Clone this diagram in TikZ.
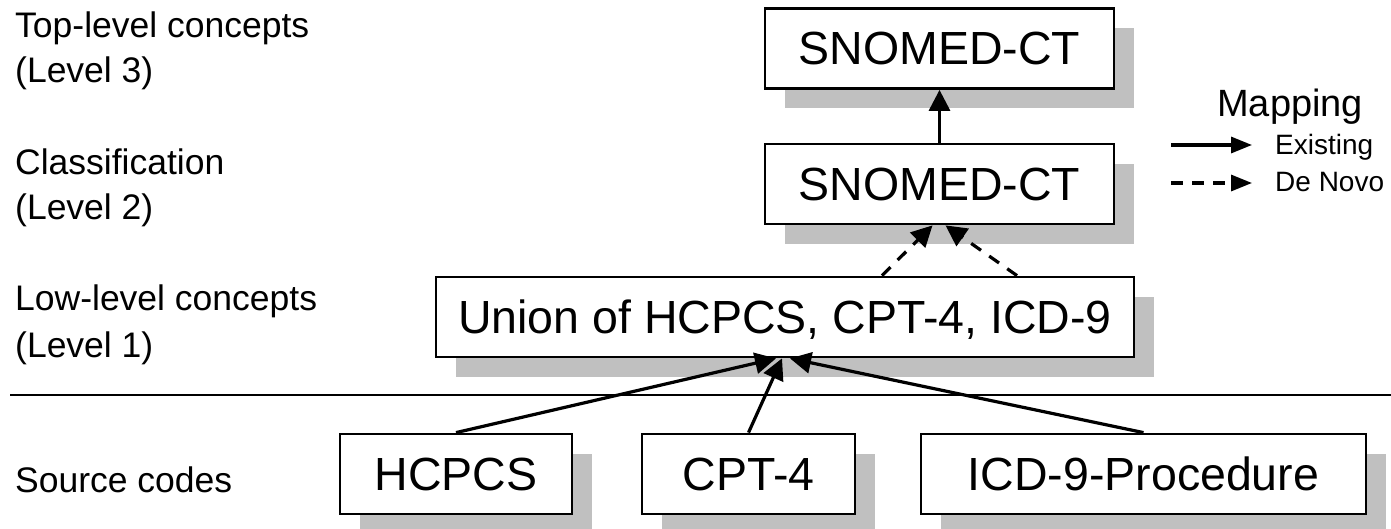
\documentclass[tikz,border=0pt]{standalone}
\usepackage{fontspec}
\setmainfont{Liberation Sans}
\usetikzlibrary{arrows.meta,shadows,calc}
\definecolor{shadowgray}{RGB}{192,192,192}
\tikzset{
  box/.style={draw=black, line width=2.8pt, fill=white, inner sep=0pt,
    text height=33pt, text depth=0pt, minimum height=80pt,
    font=\fontsize{46.5}{50}\selectfont,
    drop shadow={shadow xshift=20pt, shadow yshift=-20pt, fill=shadowgray, opacity=1}},
  lab/.style={anchor=base west, inner sep=0pt, font=\fontsize{35.5}{42}\selectfont},
  leg/.style={anchor=base west, inner sep=0pt, font=\fontsize{28}{32}\selectfont},
  conn/.style={line width=3.2pt, -{Triangle[length=21pt,width=21pt]}},
  dconn/.style={conn, dash pattern=on 12pt off 10pt},
  legarrow/.style={line width=3.2pt, -{Triangle[length=21pt,width=16pt]}},
}
\begin{document}
\begin{tikzpicture}[x=1pt,y=-1pt]
\useasboundingbox (0,0) rectangle (1391,529);
% level labels
\node[lab] (l3a) at (15,38) {Top-level concepts};
\node[lab] (l3b) at (15,83) {(Level 3)};
\node[lab] (l2a) at (15,175) {Classification};
\node[lab] (l2b) at (15,220) {(Level 2)};
\node[lab] (l1a) at (15,310) {Low-level concepts};
\node[lab] (l1b) at (15,357) {(Level 1)};
\node[lab] (src) at (15,492) {Source codes};
% separator
\coordinate (sepL) at (10,395);
\coordinate (sepR) at (1391,395);
\draw[line width=2.8pt] (sepL) -- (sepR);
% boxes
\node[box, minimum width=349pt] (top) at (939.5,48.5) {SNOMED-CT};
\node[box, minimum width=349pt] (mid) at (939.5,184) {SNOMED-CT};
\node[box, minimum width=698pt] (union) at (785,317) {Union of HCPCS, CPT-4, ICD-9};
\node[box, minimum width=232pt] (hcpcs) at (456,474) {HCPCS};
\node[box, minimum width=213pt] (cpt) at (748.5,474) {CPT-4};
\node[box, minimum width=445pt] (icd) at (1143.5,474) {ICD-9-Procedure};
% connectors
\draw[conn] (mid.north) -- (top.south);
\draw[dconn] ($(union.north)+(97,0)$) -- ($(mid.south)+(-7,0)$);
\draw[dconn] ($(union.north)+(232,0)$) -- ($(mid.south)+(6,0)$);
\draw[conn] (hcpcs.north) -- ($(union.south)+(-9,0)$);
\draw[conn] (cpt.north) -- ($(union.south)+(-3,0)$);
\draw[conn] (icd.north) -- ($(union.south)+(5,0)$);
% legend
\node[anchor=base west, inner sep=0pt, font=\fontsize{38}{42}\selectfont] (legt) at (1217,117) {Mapping};
\coordinate (e1) at (1171,145);
\coordinate (e2) at (1252,145);
\coordinate (d1) at (1171,183);
\coordinate (d2) at (1252,183);
\draw[legarrow] (e1) -- (e2);
\draw[legarrow, dash pattern=on 12pt off 9pt] (d1) -- (d2);
\node[leg] (lege) at (1275,155) {Existing};
\node[leg] (legd) at (1275,192) {De Novo};
\end{tikzpicture}
\end{document}
